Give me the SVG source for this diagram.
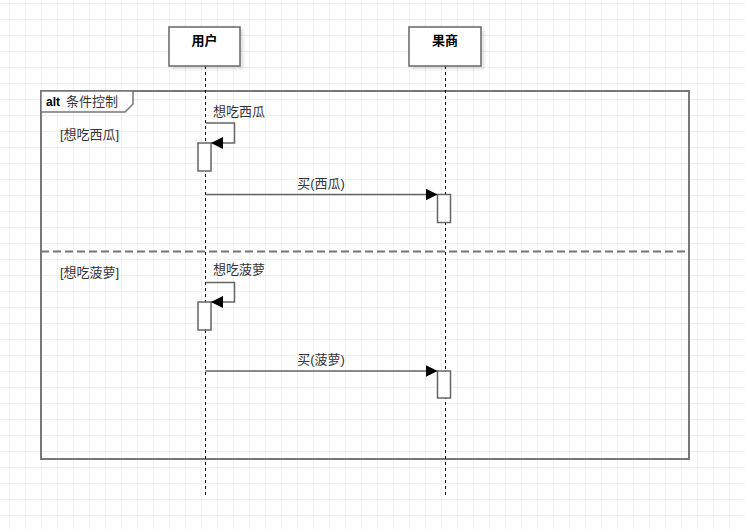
<svg xmlns="http://www.w3.org/2000/svg" width="745" height="529" viewBox="0 0 745 529">
<defs>
<pattern id="grid" x="9" y="3" width="16" height="16" patternUnits="userSpaceOnUse">
<path d="M0.5 0V16M0 0.5H16" fill="none" stroke="#efefef" stroke-width="1"/>
</pattern>
<marker id="arr" viewBox="0 0 10 10" refX="10" refY="5" markerWidth="12" markerHeight="12" markerUnits="userSpaceOnUse" orient="auto">
<path d="M0 0L10 5L0 10Z" fill="#000"/>
</marker>
<filter id="sh" x="-10%" y="-10%" width="130%" height="140%">
<feOffset dx="3" dy="3" in="SourceAlpha" result="o"/>
<feGaussianBlur in="o" stdDeviation="1" result="b"/>
<feComponentTransfer in="b" result="c"><feFuncA type="linear" slope="0.1"/></feComponentTransfer>
<feMerge><feMergeNode in="c"/><feMergeNode in="SourceGraphic"/></feMerge>
</filter>
</defs>
<style>
text{font-family:"Liberation Sans","Noto Sans CJK SC",sans-serif;font-size:13px;fill:#333}
.b{font-weight:bold;fill:#000}
.box{fill:#fff;stroke:#666;stroke-width:1.5}
.life{stroke:#000;stroke-width:1;stroke-dasharray:3 3;fill:none}
.act{fill:#fff;stroke:#666;stroke-width:1.5}
.msg{stroke:#666;stroke-width:1.5;fill:none}
.frame{fill:none;stroke:#777;stroke-width:2}
</style>
<rect width="745" height="529" fill="#fff"/>
<rect width="745" height="529" fill="url(#grid)"/>

<g id="frame">
<rect class="frame" x="41" y="91" width="648" height="368"/>
<path d="M41 91H133V104L125 112H41Z" fill="#fff" stroke="#777" stroke-width="1.5"/>
<line x1="41" y1="251.5" x2="689" y2="251.5" stroke="#777" stroke-width="2" stroke-dasharray="8 4"/>
<text x="46" y="106" class="b" style="font-size:12px">alt</text>
<text x="66" y="106">条件控制</text>
<text x="60" y="139">[想吃西瓜]</text>
<text x="60" y="277">[想吃菠萝]</text>
</g>

<g id="lifelines">
<line class="life" x1="205.5" y1="66" x2="205.5" y2="496"/>
<line class="life" x1="445.5" y1="66" x2="445.5" y2="496"/>
</g>

<g id="user">
<rect class="box" x="169" y="27" width="71" height="39" filter="url(#sh)"/>
<text x="204.5" y="45" text-anchor="middle" class="b">用户</text>
</g>
<g id="merchant">
<rect class="box" x="409" y="27" width="72" height="39" filter="url(#sh)"/>
<text x="445" y="45" text-anchor="middle" class="b">果商</text>
</g>

<g id="activations">
<rect class="act" x="198" y="143" width="13" height="28"/>
<rect class="act" x="437.5" y="194.5" width="13" height="28"/>
<rect class="act" x="198" y="302" width="13" height="28"/>
<rect class="act" x="437.5" y="371" width="13" height="27"/>
</g>

<g id="connectors">
<path class="msg" d="M205.5 123H234.5V143H211" marker-end="url(#arr)"/>
<text x="213" y="116">想吃西瓜</text>
<path class="msg" d="M205.5 194.5H437.5" marker-end="url(#arr)"/>
<text x="321" y="188" text-anchor="middle">买(西瓜)</text>
<path class="msg" d="M205.5 282.5H234.5V302H211" marker-end="url(#arr)"/>
<text x="213" y="274">想吃菠萝</text>
<path class="msg" d="M205.5 371H437.5" marker-end="url(#arr)"/>
<text x="321" y="364" text-anchor="middle">买(菠萝)</text>
</g>
</svg>
